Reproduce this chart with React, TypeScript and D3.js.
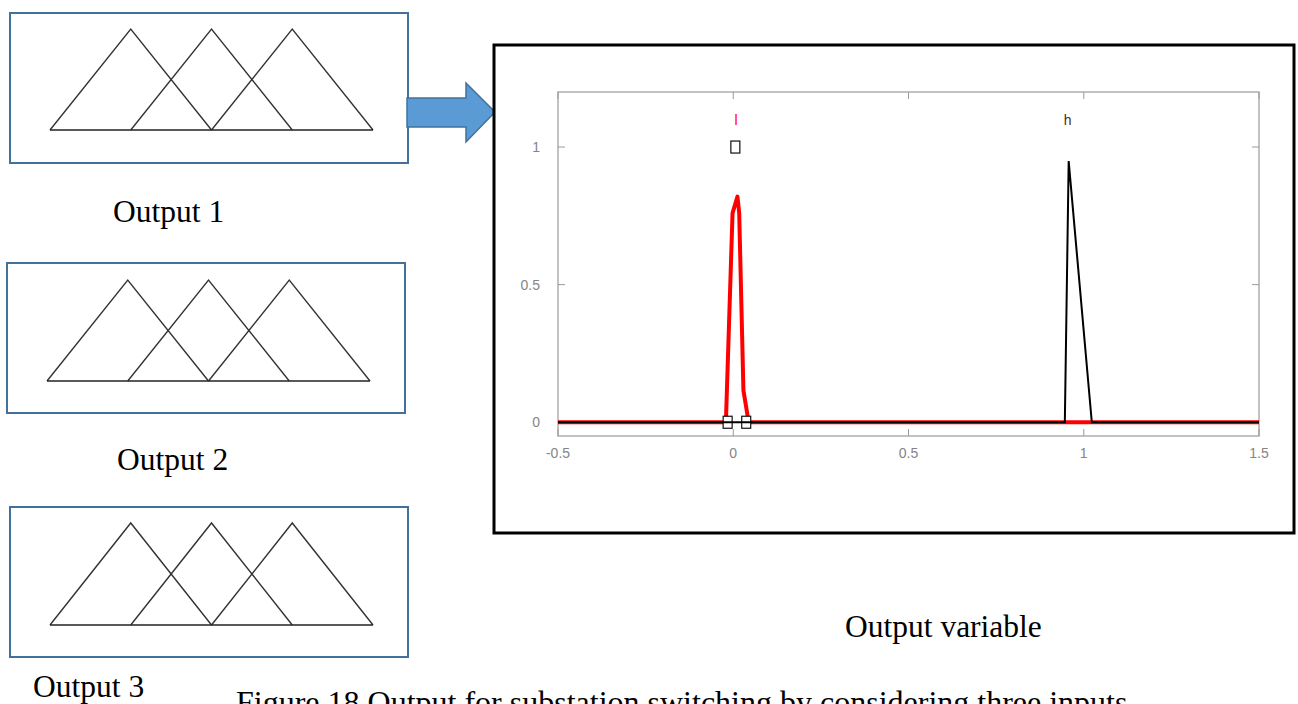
import React, { useEffect } from "react";
import * as d3 from "d3";

// membership function "l" (red) and "h" (black)
const lPoints: [number, number][] = [
  [-0.5, 0], [-0.021, 0], [-0.002, 0.76], [0.012, 0.82], [0.017, 0.76], [0.029, 0.116], [0.044, 0], [1.5, 0],
];
const hPoints: [number, number][] = [
  [-0.5, 0], [0.946, 0], [0.957, 0.949], [1.023, 0], [1.5, 0],
];
const squareMarks: [number, number][] = [[0.006, 1], [-0.016, 0], [0.037, 0]];
const mfLabels = [
  { name: "l", x: 0.008, color: "#ff0000" },
  { name: "h", x: 0.954, color: "#4a2a24" },
];
const xTicks = [-0.5, 0, 0.5, 1, 1.5];
const yTicks = [0, 0.5, 1];

// the three small input sets on the left
const triangles: [number, number, number][] = [[0, 0.5, 1], [0.5, 1, 1.5], [1, 1.5, 2]];
const outputBoxes = [
  { label: "Output 1", x: 10, y: 13, base: 117, peak: 16, lx: 113, ly: 222 },
  { label: "Output 2", x: 7, y: 263, base: 118, peak: 17, lx: 117, ly: 470 },
  { label: "Output 3", x: 10, y: 507, base: 118, peak: 16, lx: 33, ly: 697 },
];

const serif = "'Liberation Serif', 'Times New Roman', serif";
const sans = "'Liberation Sans', Arial, sans-serif";

function OutputBox(props) {
  const { b } = props;
  const tx = d3.scaleLinear().domain([0, 2]).range([b.x + 40, b.x + 363]);
  const ty = d3.scaleLinear().domain([0, 1]).range([b.y + b.base, b.y + b.peak]);
  const line = d3.line<[number, number]>().x(d => tx(d[0])).y(d => ty(d[1]));
  return (
    <g>
      <rect x={b.x} y={b.y} width={398} height={150} fill="white" stroke="#41719c" strokeWidth={2} />
      {triangles.map((t, i) => (
        <path key={i} d={line([[t[0], 0], [t[1], 1], [t[2], 0]]) || ""} fill="none" stroke="#333" strokeWidth={1.4} />
      ))}
      <line x1={tx(0)} x2={tx(2)} y1={ty(0)} y2={ty(0)} stroke="#222" strokeWidth={1.6} />
      <text x={b.lx} y={b.ly} fontFamily={serif} fontSize={31.5} fill="#000">{b.label}</text>
    </g>
  );
}

export default function App() {
  useEffect(() => {
    document.body.style.margin = "0";
  }, []);

  const x = d3.scaleLinear().domain([-0.5, 1.5]).range([558, 1259]);
  const y = d3.scaleLinear().domain([-0.05, 1.2]).range([436, 92]);
  const line = d3.line<[number, number]>().x(d => x(d[0])).y(d => y(d[1]));
  const [x0, x1] = x.range();
  const [yb, yt] = y.range();
  const axisColor = "#9a9a9a";
  const tickColor = "#858585";

  return (
    <svg width={1298} height={704} style={{ display: "block" }}>
      <rect width={1298} height={704} fill="white" />

      {outputBoxes.map((b, i) => <OutputBox key={i} b={b} />)}

      {/* arrow into the output plot */}
      <polygon
        points="407,98 466,98 466,83 495,112 466,142 466,127 407,127"
        fill="#5b9bd5" stroke="#41719c" strokeWidth={1.5}
      />

      {/* framed output plot */}
      <rect x={494} y={45} width={800} height={488} fill="white" stroke="#000" strokeWidth={3} />

      <rect x={x0} y={yt} width={x1 - x0} height={yb - yt} fill="white" stroke={axisColor} strokeWidth={1.2} />
      {xTicks.map(t => (
        <g key={"x" + t}>
          <line x1={x(t)} x2={x(t)} y1={yb} y2={yb - 7} stroke={axisColor} />
          <line x1={x(t)} x2={x(t)} y1={yt} y2={yt + 7} stroke={axisColor} />
          <text x={x(t)} y={yb + 22} textAnchor="middle" fontFamily={sans} fontSize={14} fill={tickColor}>{t}</text>
        </g>
      ))}
      {yTicks.map(t => (
        <g key={"y" + t}>
          <line x1={x0} x2={x0 + 7} y1={y(t)} y2={y(t)} stroke={axisColor} />
          <line x1={x1} x2={x1 - 7} y1={y(t)} y2={y(t)} stroke={axisColor} />
          <text x={x0 - 18} y={y(t) + 5} textAnchor="end" fontFamily={sans} fontSize={14} fill={tickColor}>{t}</text>
        </g>
      ))}

      <path d={line(lPoints) || ""} fill="none" stroke="#ff0000" strokeWidth={4} strokeLinejoin="round" />
      {squareMarks.map((s, i) => (
        <rect key={i} x={x(s[0]) - 4.5} y={y(s[1]) - 6} width={9} height={12} fill="white" stroke="#111" strokeWidth={1.2} />
      ))}
      <path d={line(hPoints) || ""} fill="none" stroke="#000" strokeWidth={2} strokeLinejoin="miter" />

      {mfLabels.map(m => (
        <text key={m.name} x={x(m.x)} y={y(1.1) + 5} textAnchor="middle" fontFamily={sans} fontSize={14} fill={m.color}>{m.name}</text>
      ))}

      <text x={845} y={637} fontFamily={serif} fontSize={31.5} fill="#000">Output variable</text>
      <text x={236} y={713} fontFamily={serif} fontSize={32} fill="#000">Figure 18 Output for substation switching by considering three inputs</text>
    </svg>
  );
}
